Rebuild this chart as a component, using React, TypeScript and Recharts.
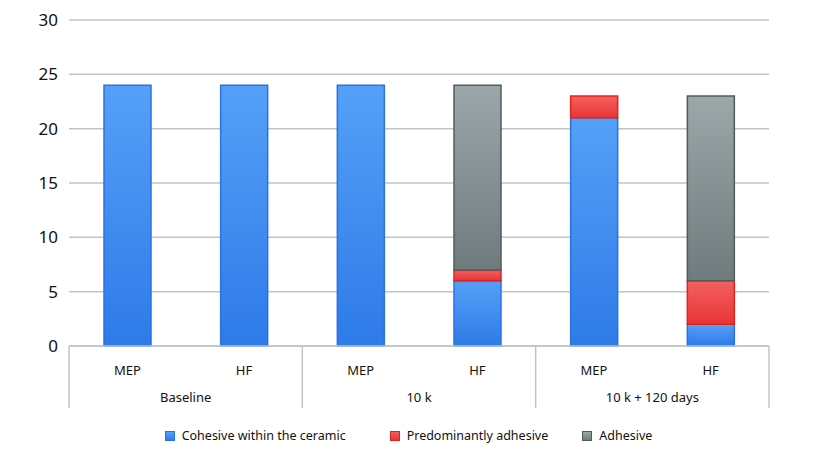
import React from "react";
import {
  BarChart,
  Bar,
  XAxis,
  YAxis,
  CartesianGrid,
  Legend,
} from "recharts";

const categories = ["MEP", "HF", "MEP", "HF", "MEP", "HF"];
const groups = ["Baseline", "Baseline", "10 k", "10 k", "10 k + 120 days", "10 k + 120 days"];
const cohesive = [24, 24, 24, 6, 21, 2];
const predominantlyAdhesive = [0, 0, 0, 1, 2, 4];
const adhesive = [0, 0, 0, 17, 0, 17];
const yTicks = [0, 5, 10, 15, 20, 25, 30];

const data = categories.map((name, i) => ({
  name,
  group: groups[i],
  cohesive: cohesive[i],
  predominantly: predominantlyAdhesive[i],
  adhesive: adhesive[i],
}));

const WIDTH = 815;
const HEIGHT = 457;
// bottom margin leaves room for the legend row (Recharts adds the legend height itself)
const MARGIN = { top: 20, right: 46, left: 9, bottom: 32 };
const Y_WIDTH = 60;
const PLOT_W = WIDTH - MARGIN.left - MARGIN.right - Y_WIDTH;
const HALF_BAND = PLOT_W / categories.length / 2;
const AXIS_H = 62;
const FONT = "'Noto Sans', sans-serif";
const LINE = "#bcc6c8";

const series = [
  { key: "cohesive", label: "Cohesive within the ceramic", grad: "gBlue", stroke: "#2a72e4", top: "#55a0f7", bottom: "#2e7ae8" },
  { key: "predominantly", label: "Predominantly adhesive", grad: "gRed", stroke: "#e2231b", top: "#f46060", bottom: "#e83535" },
  { key: "adhesive", label: "Adhesive", grad: "gGrey", stroke: "#525c5d", top: "#9ca7a9", bottom: "#6f7a7c" },
];

// two-level category axis: sample name, then group name with dividers
function GroupTick(props: any) {
  const { x, y, payload, index } = props;
  const top = y - 8;
  const isFirst = index % 2 === 0;
  const isLast = index === categories.length - 1;
  return (
    <g>
      <text x={x} y={top + 29} textAnchor="middle" fontSize={13} fill="#111" fontFamily={FONT}>
        {payload.value}
      </text>
      {isFirst && (
        <>
          <line x1={x - HALF_BAND} y1={top} x2={x - HALF_BAND} y2={top + AXIS_H} stroke={LINE} strokeWidth={1.5} />
          <text x={x + HALF_BAND} y={top + 56} textAnchor="middle" fontSize={13} fill="#111" fontFamily={FONT}>
            {groups[index]}
          </text>
        </>
      )}
      {isLast && (
        <line x1={x + HALF_BAND} y1={top} x2={x + HALF_BAND} y2={top + AXIS_H} stroke={LINE} strokeWidth={1.5} />
      )}
    </g>
  );
}

const legendGaps = [0, 44, 34];

function LegendContent() {
  return (
    <div style={{ display: "flex", justifyContent: "center", fontFamily: FONT, fontSize: 12.5, color: "#111", paddingLeft: 39 }}>
      {series.map((s, i) => (
        <div key={s.key} style={{ display: "flex", alignItems: "center", gap: 7, marginLeft: legendGaps[i] }}>
          <span
            style={{
              display: "inline-block",
              width: 8,
              height: 8,
              border: `1px solid ${s.stroke}`,
              background: `linear-gradient(${s.top}, ${s.bottom})`,
            }}
          />
          <span>{s.label}</span>
        </div>
      ))}
    </div>
  );
}

export default function App() {
  return (
    <div style={{ position: "absolute", left: 0, top: 0, background: "#fff" }}>
      <BarChart width={WIDTH} height={HEIGHT} data={data} margin={MARGIN}>
        <defs>
          {series.map((s) => (
            <linearGradient key={s.grad} id={s.grad} x1="0" y1="0" x2="0" y2="1">
              <stop offset="0%" stopColor={s.top} />
              <stop offset="100%" stopColor={s.bottom} />
            </linearGradient>
          ))}
        </defs>
        <CartesianGrid vertical={false} stroke={LINE} strokeWidth={1.5} />
        <XAxis
          dataKey="name"
          height={AXIS_H}
          tickLine={false}
          axisLine={{ stroke: LINE, strokeWidth: 1.5 }}
          interval={0}
          tick={<GroupTick />}
        />
        <YAxis
          width={Y_WIDTH}
          domain={[0, 30]}
          ticks={yTicks}
          axisLine={false}
          tickLine={false}
          tickMargin={5}
          tick={{ fontSize: 17, fill: "#111", fontFamily: FONT }}
        />
        <Legend verticalAlign="bottom" content={<LegendContent />} wrapperStyle={{ bottom: 13 }} />
        {series.map((s) => (
          <Bar
            key={s.key}
            dataKey={s.key}
            name={s.label}
            stackId="a"
            fill={`url(#${s.grad})`}
            stroke={s.stroke}
            strokeWidth={1.5}
            barSize={47}
            isAnimationActive={false}
          />
        ))}
      </BarChart>
    </div>
  );
}
